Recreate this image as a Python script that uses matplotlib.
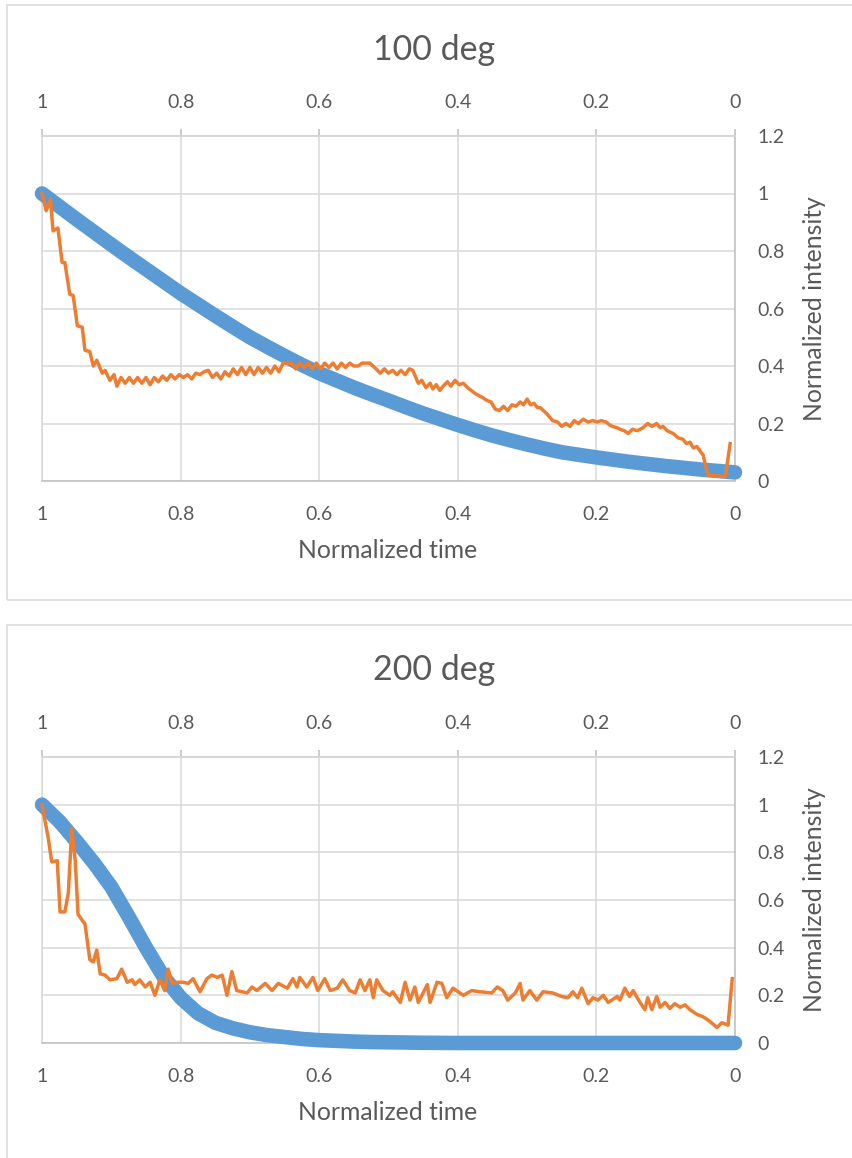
import matplotlib
matplotlib.use("Agg")
import matplotlib.pyplot as plt
from matplotlib.patches import Rectangle

plt.rcParams['font.family'] = ['Lato', 'DejaVu Sans']

# ---- data ----
tick_vals = [1, 0.8, 0.6, 0.4, 0.2, 0]
tick_text = ["1", "0.8", "0.6", "0.4", "0.2", "0"]
ytick_vals = [0, 0.2, 0.4, 0.6, 0.8, 1.0, 1.2]
ytick_text = ["0", "0.2", "0.4", "0.6", "0.8", "1", "1.2"]

# 100 deg
blue1_t = [1.0, 0.975, 0.95, 0.925, 0.9, 0.875, 0.85, 0.825, 0.8, 0.775, 0.75,
           0.725, 0.7, 0.675, 0.65, 0.625, 0.6, 0.575, 0.55, 0.525, 0.5,
           0.475, 0.45, 0.425, 0.4, 0.375, 0.35, 0.325, 0.3, 0.275, 0.25,
           0.225, 0.2, 0.175, 0.15, 0.125, 0.1, 0.075, 0.05, 0.025, 0.0]
blue1_y = [1.0, 0.955, 0.91, 0.866, 0.822, 0.779, 0.737, 0.695, 0.653, 0.614, 0.575,
           0.537, 0.50, 0.467, 0.435, 0.404, 0.375, 0.35, 0.325, 0.302, 0.28,
           0.257, 0.235, 0.215, 0.195, 0.176, 0.158, 0.142, 0.127, 0.113, 0.10,
           0.091, 0.082, 0.074, 0.066, 0.059, 0.052, 0.046, 0.04, 0.035, 0.03]

orange1_t = [1.000, 0.994, 0.988, 0.984, 0.977, 0.971, 0.967, 0.960, 0.955, 0.949,
             0.942, 0.938, 0.931, 0.926, 0.921, 0.913, 0.909, 0.902, 0.896, 0.892,
             0.886, 0.880, 0.874, 0.868, 0.862, 0.856, 0.850, 0.844, 0.838, 0.832,
             0.826, 0.820, 0.814, 0.808, 0.802, 0.796, 0.790, 0.784, 0.778, 0.772,
             0.766, 0.760, 0.754, 0.748, 0.742, 0.736, 0.730, 0.724, 0.718, 0.712,
             0.706, 0.700, 0.694, 0.688, 0.682, 0.676, 0.670, 0.664, 0.658, 0.652,
             0.646, 0.640, 0.634, 0.628, 0.622, 0.616, 0.610, 0.604, 0.598, 0.592,
             0.586, 0.580, 0.574, 0.568, 0.562, 0.556, 0.550, 0.544, 0.538, 0.532,
             0.527, 0.518, 0.512, 0.506, 0.500, 0.494, 0.488, 0.482, 0.476, 0.470,
             0.465, 0.457, 0.452, 0.446, 0.440, 0.436, 0.431, 0.426, 0.421, 0.415,
             0.410, 0.404, 0.398, 0.392, 0.386, 0.378, 0.372, 0.364, 0.358, 0.352,
             0.346, 0.340, 0.334, 0.328, 0.322, 0.316, 0.310, 0.305, 0.300, 0.295,
             0.290, 0.285, 0.281, 0.272, 0.263, 0.256, 0.250, 0.244, 0.238, 0.232,
             0.226, 0.219, 0.212, 0.205, 0.199, 0.193, 0.186, 0.181, 0.177, 0.170,
             0.166, 0.160, 0.154, 0.148, 0.141, 0.133, 0.126, 0.120, 0.113, 0.108,
             0.104, 0.098, 0.089, 0.082, 0.075, 0.070, 0.065, 0.060, 0.055, 0.046,
             0.039, 0.014, 0.007]
orange1_y = [1.00, 0.94, 0.98, 0.87, 0.88, 0.76, 0.76, 0.65, 0.645, 0.54,
             0.535, 0.455, 0.45, 0.40, 0.42, 0.375, 0.385, 0.35, 0.37, 0.33,
             0.36, 0.34, 0.36, 0.34, 0.36, 0.34, 0.36, 0.335, 0.36, 0.345,
             0.365, 0.35, 0.37, 0.355, 0.37, 0.36, 0.37, 0.355, 0.375, 0.37,
             0.38, 0.385, 0.36, 0.375, 0.355, 0.38, 0.365, 0.39, 0.37, 0.395,
             0.37, 0.395, 0.37, 0.395, 0.375, 0.395, 0.375, 0.40, 0.38, 0.41,
             0.41, 0.41, 0.39, 0.41, 0.395, 0.41, 0.39, 0.41, 0.39, 0.41,
             0.395, 0.41, 0.39, 0.41, 0.395, 0.41, 0.40, 0.40, 0.41, 0.41,
             0.41, 0.39, 0.375, 0.39, 0.375, 0.385, 0.37, 0.385, 0.37, 0.39,
             0.385, 0.34, 0.35, 0.325, 0.34, 0.32, 0.335, 0.315, 0.33, 0.345,
             0.33, 0.35, 0.335, 0.34, 0.325, 0.31, 0.30, 0.29, 0.28, 0.275,
             0.25, 0.245, 0.26, 0.245, 0.265, 0.26, 0.275, 0.265, 0.285, 0.265,
             0.27, 0.255, 0.255, 0.235, 0.21, 0.205, 0.19, 0.20, 0.19, 0.21,
             0.20, 0.215, 0.205, 0.21, 0.205, 0.21, 0.205, 0.195, 0.19, 0.185,
             0.18, 0.175, 0.165, 0.18, 0.175, 0.185, 0.20, 0.19, 0.20, 0.185,
             0.19, 0.175, 0.165, 0.15, 0.145, 0.13, 0.135, 0.115, 0.12, 0.09,
             0.02, 0.015, 0.13]

# 200 deg
blue2_t = [1.0, 0.975, 0.95, 0.925, 0.9, 0.875, 0.85, 0.825, 0.8, 0.775, 0.75,
           0.725, 0.7, 0.675, 0.65, 0.625, 0.6, 0.575, 0.55, 0.525, 0.5,
           0.475, 0.45, 0.4, 0.3, 0.2, 0.1, 0.0]
blue2_y = [1.0, 0.93, 0.845, 0.755, 0.655, 0.53, 0.40, 0.28, 0.19, 0.125, 0.085,
           0.062, 0.045, 0.033, 0.025, 0.017, 0.012, 0.009, 0.006, 0.004, 0.003,
           0.002, 0.001, 0.0, 0.0, 0.0, 0.0, 0.0]

orange2_t = [1.000, 0.991, 0.986, 0.978, 0.974, 0.967, 0.962, 0.957, 0.952, 0.948,
             0.942, 0.938, 0.931, 0.926, 0.921, 0.916, 0.909, 0.902, 0.892, 0.885,
             0.877, 0.870, 0.866, 0.859, 0.851, 0.844, 0.837, 0.830, 0.823, 0.818,
             0.812, 0.805, 0.797, 0.789, 0.782, 0.772, 0.762, 0.755, 0.747, 0.740,
             0.733, 0.726, 0.719, 0.711, 0.704, 0.697, 0.690, 0.678, 0.668, 0.659,
             0.646, 0.638, 0.632, 0.628, 0.618, 0.609, 0.602, 0.592, 0.584, 0.574,
             0.566, 0.556, 0.548, 0.541, 0.534, 0.527, 0.522, 0.517, 0.508, 0.498,
             0.494, 0.483, 0.476, 0.469, 0.462, 0.457, 0.444, 0.440, 0.430, 0.423,
             0.416, 0.407, 0.392, 0.380, 0.368, 0.351, 0.343, 0.335, 0.328, 0.317,
             0.310, 0.306, 0.296, 0.286, 0.277, 0.263, 0.250, 0.241, 0.234, 0.227,
             0.221, 0.212, 0.205, 0.198, 0.190, 0.183, 0.170, 0.166, 0.159, 0.152,
             0.147, 0.137, 0.130, 0.126, 0.120, 0.113, 0.108, 0.101, 0.094, 0.087,
             0.079, 0.072, 0.065, 0.055, 0.046, 0.036, 0.026, 0.019, 0.010, 0.004]
orange2_y = [1.0, 0.86, 0.76, 0.765, 0.55, 0.55, 0.63, 0.90, 0.765, 0.54,
             0.515, 0.50, 0.35, 0.34, 0.39, 0.29, 0.285, 0.265, 0.27, 0.31,
             0.255, 0.265, 0.245, 0.265, 0.235, 0.255, 0.20, 0.265, 0.22, 0.31,
             0.25, 0.255, 0.255, 0.25, 0.27, 0.215, 0.27, 0.285, 0.275, 0.285,
             0.20, 0.30, 0.22, 0.215, 0.21, 0.235, 0.22, 0.25, 0.22, 0.25,
             0.23, 0.27, 0.235, 0.275, 0.235, 0.275, 0.22, 0.27, 0.22, 0.23,
             0.265, 0.22, 0.21, 0.265, 0.22, 0.265, 0.19, 0.265, 0.22, 0.20,
             0.215, 0.17, 0.255, 0.18, 0.235, 0.17, 0.245, 0.17, 0.255, 0.25,
             0.19, 0.23, 0.20, 0.22, 0.215, 0.21, 0.235, 0.22, 0.18, 0.21,
             0.25, 0.18, 0.22, 0.18, 0.215, 0.21, 0.195, 0.19, 0.215, 0.19,
             0.23, 0.165, 0.19, 0.18, 0.20, 0.17, 0.195, 0.18, 0.23, 0.195,
             0.22, 0.17, 0.14, 0.19, 0.14, 0.195, 0.15, 0.17, 0.145, 0.165,
             0.15, 0.16, 0.14, 0.12, 0.11, 0.09, 0.065, 0.085, 0.075, 0.27]

titles = ["100 deg", "200 deg"]

# ---- style ----
BLUE = "#5B9BD5"
ORANGE = "#ED7D31"
GRID = "#D9D9D9"
AXIS = "#BFBFBF"
TEXT = "#595959"

W, H = 852, 1158
fig = plt.figure(figsize=(W / 100, H / 100), dpi=100)


def fx(px):
    return px / W


def fy(py):
    return 1 - py / H


# chart boxes (right edge runs off the picture)
for top, bot in [(5, 600), (625, 1190)]:
    fig.patches.append(Rectangle((fx(7), fy(bot)), fx(870 - 7), fy(top) - fy(bot),
                                 transform=fig.transFigure, fill=False,
                                 edgecolor=GRID, linewidth=1.1))

panels = [
    # plot area top, bottom (px), title y, xlabel y
    (136, 481, 50, 551, blue1_t, blue1_y, orange1_t, orange1_y),
    (757, 1043, 670, 1113, blue2_t, blue2_y, orange2_t, orange2_y),
]

for i, (ptop, pbot, ty, ly, bt, by, ot, oy) in enumerate(panels):
    ax = fig.add_axes([fx(42), fy(pbot), fx(735 - 42), fy(ptop) - fy(pbot)])
    ax.plot(bt, by, color=BLUE, lw=10.5, solid_capstyle="round",
            solid_joinstyle="round", clip_on=False, zorder=3)
    ax.plot(ot, oy, color=ORANGE, lw=2.5, solid_joinstyle="round",
            clip_on=False, zorder=4)

    ax.set_xlim(1, 0)
    ax.set_ylim(0, 1.2)
    ax.set_xticks(tick_vals)
    ax.set_xticklabels(tick_text)
    ax.set_yticks(ytick_vals)
    ax.set_yticklabels(ytick_text)
    ax.yaxis.tick_right()
    ax.grid(True, color=GRID, lw=1.1, zorder=0)
    ax.set_axisbelow(True)
    ax.tick_params(axis="x", length=0, pad=18, labelsize=14, labelcolor=TEXT)
    ax.tick_params(axis="y", length=0, pad=16, labelsize=14, labelcolor=TEXT)
    for s in ["top", "left"]:
        ax.spines[s].set_color(GRID)
        ax.spines[s].set_linewidth(1.1)
    for s in ["bottom", "right"]:
        ax.spines[s].set_color(AXIS)
        ax.spines[s].set_linewidth(1.1)

    sec = ax.secondary_xaxis("top")
    sec.set_xticks(tick_vals)
    sec.set_xticklabels(tick_text)
    sec.tick_params(direction="out", length=5, width=1.1, color=AXIS, pad=13,
                    labelsize=14, labelcolor=TEXT)
    sec.spines["top"].set_color(AXIS)
    sec.spines["top"].set_linewidth(1.1)

    fig.text(fx(434), fy(ty), titles[i], ha="center", va="center",
             fontsize=24.5, color=TEXT)
    fig.text(fx(388), fy(ly), "Normalized time", ha="center", va="center",
             fontsize=17.8, color=TEXT)
    fig.text(fx(815), fy((ptop + pbot) / 2), "Normalized intensity", rotation=90,
             ha="center", va="center", fontsize=17.8, color=TEXT)

fig.savefig("out.png", dpi=100)
